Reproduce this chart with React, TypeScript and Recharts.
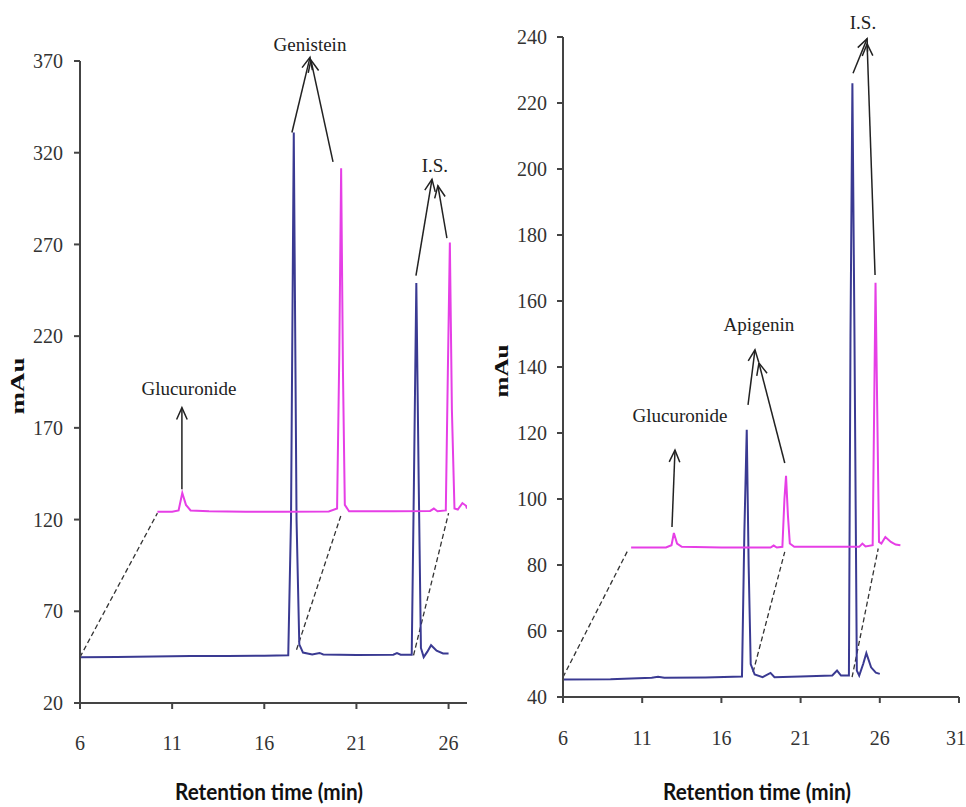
import React from "react";
import { LineChart, Line, XAxis, YAxis, ReferenceLine, ReferenceDot } from "recharts";

type Pt = { t: number; v: number };
type Seg = [Pt, Pt];
type Tag = { text: string; t: number; v: number };

// ---- left panel: genistein ----
const genTicksX = [6, 11, 16, 21, 26];
const genTicksY = [20, 70, 120, 170, 220, 270, 320, 370];

const genBlank: Pt[] = [
  { t: 6, v: 45 }, { t: 8, v: 45.1 }, { t: 10, v: 45.3 }, { t: 12, v: 45.6 },
  { t: 14, v: 45.6 }, { t: 16, v: 45.8 }, { t: 17.3, v: 46 }, { t: 17.45, v: 120 },
  { t: 17.6, v: 331 }, { t: 17.75, v: 120 }, { t: 17.9, v: 52 }, { t: 18.1, v: 47.5 },
  { t: 18.6, v: 46.5 }, { t: 19.0, v: 47.3 }, { t: 19.2, v: 46.5 }, { t: 21, v: 46.2 },
  { t: 23, v: 46.3 }, { t: 23.2, v: 47.2 }, { t: 23.4, v: 46.3 }, { t: 24.0, v: 46.3 },
  { t: 24.12, v: 140 }, { t: 24.25, v: 249 }, { t: 24.38, v: 140 }, { t: 24.5, v: 50 },
  { t: 24.65, v: 45 }, { t: 24.85, v: 48 }, { t: 25.05, v: 51.5 }, { t: 25.35, v: 48.5 },
  { t: 25.7, v: 47 }, { t: 26.0, v: 47 },
];

const genSample: Pt[] = [
  { t: 10.2, v: 124.3 }, { t: 11.0, v: 124.3 }, { t: 11.35, v: 125 }, { t: 11.55, v: 134.5 },
  { t: 11.75, v: 128 }, { t: 12.0, v: 125 }, { t: 13, v: 124.6 }, { t: 15, v: 124.3 },
  { t: 17, v: 124.3 }, { t: 19.5, v: 124.4 }, { t: 19.95, v: 126 }, { t: 20.07, v: 210 },
  { t: 20.17, v: 311.5 }, { t: 20.27, v: 200 }, { t: 20.37, v: 128 }, { t: 20.6, v: 124.5 },
  { t: 23, v: 124.5 }, { t: 25.0, v: 124.7 }, { t: 25.2, v: 126 }, { t: 25.4, v: 124.5 },
  { t: 25.85, v: 125 }, { t: 25.96, v: 200 }, { t: 26.07, v: 271 }, { t: 26.18, v: 180 },
  { t: 26.32, v: 126 }, { t: 26.5, v: 125.5 }, { t: 26.75, v: 129 }, { t: 26.95, v: 127.5 },
  { t: 27.0, v: 126 },
];

const genGuides: Seg[] = [
  [{ t: 6, v: 45 }, { t: 10.2, v: 123.5 }],
  [{ t: 17.75, v: 49 }, { t: 20.2, v: 123.5 }],
  [{ t: 24.1, v: 46 }, { t: 26.0, v: 123.5 }],
];

const genArrows: Seg[] = [
  [{ t: 17.5, v: 331 }, { t: 18.48, v: 372 }],
  [{ t: 19.73, v: 315 }, { t: 18.53, v: 370.5 }],
  [{ t: 11.53, v: 136.5 }, { t: 11.53, v: 181 }],
  [{ t: 24.23, v: 253 }, { t: 25.1, v: 305.5 }],
  [{ t: 25.91, v: 273.5 }, { t: 25.42, v: 302 }],
];

const genTags: Tag[] = [
  { text: "Genistein", t: 18.48, v: 378.8 },
  { text: "Glucuronide", t: 11.91, v: 191.2 },
  { text: "I.S.", t: 25.26, v: 313.3 },
];

// ---- right panel: apigenin ----
const apiTicksX = [6, 11, 16, 21, 26, 31];
const apiTicksY = [40, 60, 80, 100, 120, 140, 160, 180, 200, 220, 240];

const apiBlank: Pt[] = [
  { t: 6, v: 45.3 }, { t: 9, v: 45.4 }, { t: 11.6, v: 45.8 }, { t: 12, v: 46.1 },
  { t: 12.4, v: 45.8 }, { t: 15, v: 45.9 }, { t: 17.3, v: 46.2 }, { t: 17.45, v: 90 },
  { t: 17.6, v: 121 }, { t: 17.72, v: 80 }, { t: 17.85, v: 50 }, { t: 18.1, v: 46.8 },
  { t: 18.6, v: 46.0 }, { t: 19.1, v: 47.3 }, { t: 19.35, v: 46.0 }, { t: 21, v: 46.2 },
  { t: 23.0, v: 46.5 }, { t: 23.3, v: 48 }, { t: 23.55, v: 46.5 }, { t: 24.05, v: 46.5 },
  { t: 24.15, v: 150 }, { t: 24.27, v: 226 }, { t: 24.4, v: 150 }, { t: 24.55, v: 48 },
  { t: 24.7, v: 46.5 }, { t: 24.95, v: 50 }, { t: 25.15, v: 53.3 }, { t: 25.45, v: 49 },
  { t: 25.75, v: 47.4 }, { t: 26.0, v: 47 },
];

const apiSample: Pt[] = [
  { t: 10.3, v: 85.3 }, { t: 12.5, v: 85.3 }, { t: 12.85, v: 86 }, { t: 13.0, v: 89.7 },
  { t: 13.2, v: 86.5 }, { t: 13.5, v: 85.5 }, { t: 16, v: 85.3 }, { t: 19.1, v: 85.3 },
  { t: 19.3, v: 85.9 }, { t: 19.5, v: 85.3 }, { t: 19.85, v: 85.5 }, { t: 19.98, v: 100 },
  { t: 20.08, v: 107 }, { t: 20.2, v: 95 }, { t: 20.32, v: 86.5 }, { t: 20.6, v: 85.5 },
  { t: 23, v: 85.5 }, { t: 24.7, v: 85.5 }, { t: 24.9, v: 86.5 }, { t: 25.1, v: 85.6 },
  { t: 25.55, v: 86 }, { t: 25.65, v: 130 }, { t: 25.73, v: 165.5 }, { t: 25.83, v: 130 },
  { t: 25.95, v: 87 }, { t: 26.1, v: 86.5 }, { t: 26.35, v: 88.5 }, { t: 26.7, v: 87 },
  { t: 27.0, v: 86.2 }, { t: 27.3, v: 86 },
];

const apiGuides: Seg[] = [
  [{ t: 6, v: 46 }, { t: 10.1, v: 84.5 }],
  [{ t: 18.0, v: 47.5 }, { t: 20.0, v: 84 }],
  [{ t: 24.25, v: 46 }, { t: 25.9, v: 85 }],
];

const apiArrows: Seg[] = [
  [{ t: 12.88, v: 91.5 }, { t: 13.07, v: 114.8 }],
  [{ t: 17.68, v: 128.5 }, { t: 18.12, v: 145.2 }],
  [{ t: 20.0, v: 110.9 }, { t: 18.37, v: 141.2 }],
  [{ t: 24.31, v: 229 }, { t: 25.2, v: 239.5 }],
  [{ t: 25.7, v: 167.9 }, { t: 25.2, v: 237.9 }],
];

const apiTags: Tag[] = [
  { text: "I.S.", t: 24.94, v: 244.5 },
  { text: "Apigenin", t: 18.37, v: 153 },
  { text: "Glucuronide", t: 13.39, v: 125.2 },
];

const BLUE = "#3a3a92";
const PINK = "#e63fe6";
const AXIS = "#444";
const serif = "'Liberation Serif', 'Times New Roman', serif";

const arrowShape = (p: any) => {
  const { x1, y1, x2, y2 } = p;
  const dx = x2 - x1;
  const dy = y2 - y1;
  const len = Math.hypot(dx, dy) || 1;
  const bx = -dx / len;
  const by = -dy / len;
  const L = 13;
  const a = 0.42;
  const c = Math.cos(a);
  const s = Math.sin(a);
  const h1x = x2 + L * (bx * c - by * s);
  const h1y = y2 + L * (bx * s + by * c);
  const h2x = x2 + L * (bx * c + by * s);
  const h2y = y2 + L * (-bx * s + by * c);
  return (
    <g>
      <line x1={x1} y1={y1} x2={x2} y2={y2} stroke="#222" strokeWidth={1.5} />
      <polyline
        points={`${h1x},${h1y} ${x2},${y2} ${h2x},${h2y}`}
        fill="none"
        stroke="#222"
        strokeWidth={1.5}
      />
    </g>
  );
};

const tagShape = (text: string) => (p: any) => (
  <text
    x={p.cx}
    y={p.cy}
    textAnchor="middle"
    dominantBaseline="central"
    fontFamily={serif}
    fontSize={19}
    fill="#222"
  >
    {text}
  </text>
);

interface PanelProps {
  left: number;
  width: number;
  margin: { top: number; right: number; bottom: number; left: number };
  xDomain: [number, number];
  yDomain: [number, number];
  xTicks: number[];
  yTicks: number[];
  blank: Pt[];
  sample: Pt[];
  guides: Seg[];
  arrows: Seg[];
  tags: Tag[];
  xTickMargin: number;
  yTickMargin: number;
}

function Panel(props: PanelProps) {
  const tickStyle = { fontFamily: serif, fontSize: 20, fill: "#333" };
  return (
    <div style={{ position: "absolute", left: props.left, top: 0 }}>
      <LineChart width={props.width} height={807} margin={props.margin}>
        <XAxis
          type="number"
          dataKey="t"
          domain={props.xDomain}
          ticks={props.xTicks}
          allowDataOverflow
          height={30}
          stroke={AXIS}
          strokeWidth={2}
          tickSize={6}
          tickMargin={props.xTickMargin}
          tick={tickStyle}
        />
        <YAxis
          type="number"
          dataKey="v"
          domain={props.yDomain}
          ticks={props.yTicks}
          allowDataOverflow
          width={60}
          stroke={AXIS}
          strokeWidth={2}
          tickSize={6}
          tickMargin={props.yTickMargin}
          tick={tickStyle}
        />
        {props.guides.map((g, i) => (
          <ReferenceLine
            key={`g${i}`}
            segment={[{ x: g[0].t, y: g[0].v }, { x: g[1].t, y: g[1].v }]}
            stroke="#333"
            strokeWidth={1.3}
            strokeDasharray="5 3"
            ifOverflow="visible"
          />
        ))}
        <Line
          data={props.blank}
          dataKey="v"
          type="linear"
          stroke={BLUE}
          strokeWidth={2}
          dot={false}
          isAnimationActive={false}
        />
        <Line
          data={props.sample}
          dataKey="v"
          type="linear"
          stroke={PINK}
          strokeWidth={2}
          dot={false}
          isAnimationActive={false}
        />
        {props.arrows.map((a, i) => (
          <ReferenceLine
            key={`a${i}`}
            segment={[{ x: a[0].t, y: a[0].v }, { x: a[1].t, y: a[1].v }]}
            ifOverflow="visible"
            shape={arrowShape}
          />
        ))}
        {props.tags.map((tg, i) => (
          <ReferenceDot
            key={`t${i}`}
            x={tg.t}
            y={tg.v}
            r={0}
            ifOverflow="visible"
            shape={tagShape(tg.text)}
          />
        ))}
      </LineChart>
    </div>
  );
}

export default function App() {
  return (
    <div style={{ position: "absolute", left: 0, top: 0, width: 966, height: 807, background: "#fff", overflow: "hidden" }}>
      <Panel
        left={0}
        width={480}
        margin={{ top: 61, right: 13, bottom: 74, left: 20 }}
        xDomain={[6, 27]}
        yDomain={[20, 370]}
        xTicks={genTicksX}
        yTicks={genTicksY}
        blank={genBlank}
        sample={genSample}
        guides={genGuides}
        arrows={genArrows}
        tags={genTags}
        xTickMargin={27}
        yTickMargin={11}
      />
      <Panel
        left={480}
        width={486}
        margin={{ top: 37, right: 7, bottom: 80, left: 23 }}
        xDomain={[6, 31]}
        yDomain={[40, 240]}
        xTicks={apiTicksX}
        yTicks={apiTicksY}
        blank={apiBlank}
        sample={apiSample}
        guides={apiGuides}
        arrows={apiArrows}
        tags={apiTags}
        xTickMargin={28}
        yTickMargin={10}
      />
      <svg width={966} height={807} style={{ position: "absolute", left: 0, top: 0, pointerEvents: "none" }}>
        <text
          transform="translate(24,386) rotate(-90)"
          textAnchor="middle"
          fontFamily={serif}
          fontWeight="bold"
          fontSize={19}
          textLength={57}
          lengthAdjust="spacingAndGlyphs"
          fill="#111"
        >
          mAu
        </text>
        <text
          transform="translate(508,371) rotate(-90)"
          textAnchor="middle"
          fontFamily={serif}
          fontWeight="bold"
          fontSize={19}
          textLength={53}
          lengthAdjust="spacingAndGlyphs"
          fill="#111"
        >
          mAu
        </text>
        <text x={269} y={800} textAnchor="middle" fontFamily="Lato, sans-serif" fontWeight="bold" fontSize={22} textLength={188} lengthAdjust="spacingAndGlyphs" fill="#111">
          Retention time (min)
        </text>
        <text x={757} y={800} textAnchor="middle" fontFamily="Lato, sans-serif" fontWeight="bold" fontSize={22} textLength={188} lengthAdjust="spacingAndGlyphs" fill="#111">
          Retention time (min)
        </text>
      </svg>
    </div>
  );
}
